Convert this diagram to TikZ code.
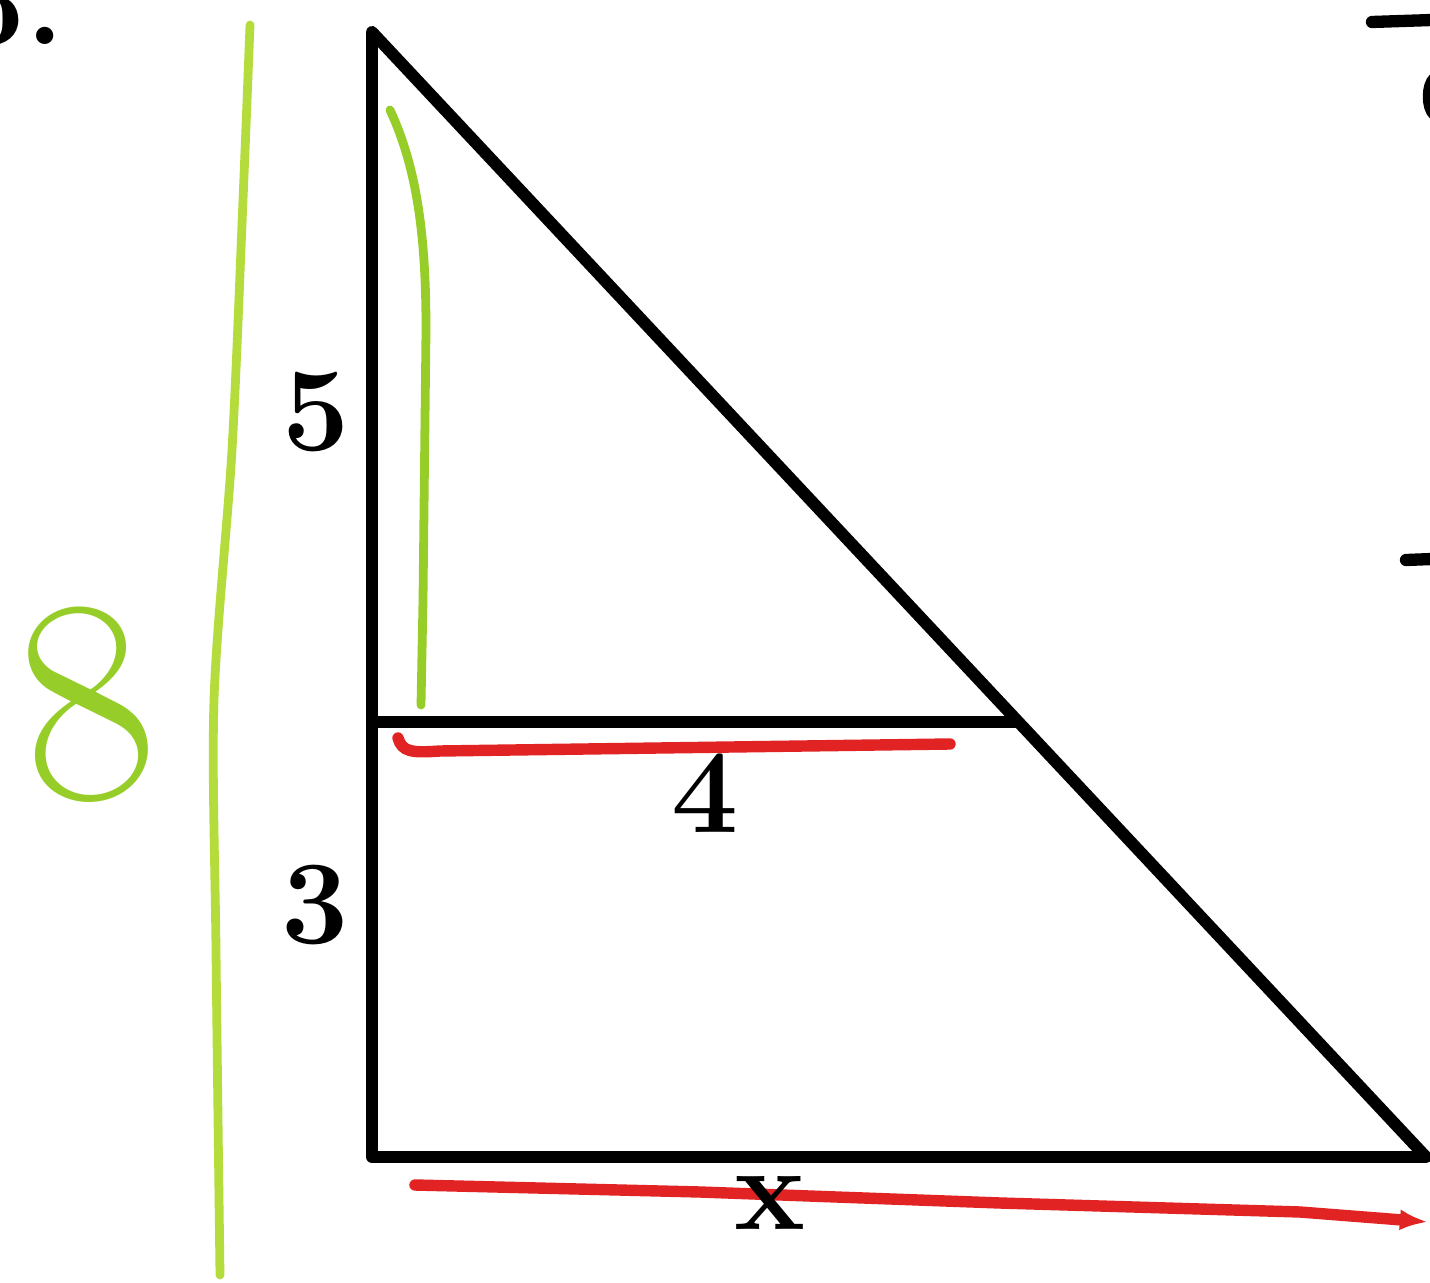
\documentclass[tikz,border=0pt]{standalone}
\usetikzlibrary{arrows.meta}
\definecolor{pengreen}{RGB}{150,205,40}
\definecolor{lightgreen}{RGB}{180,220,60}
\definecolor{penred}{RGB}{225,35,35}
\tikzset{
  edge/.style={line width=6.8pt, line cap=round, line join=round, black},
  greenpen/.style={line width=5pt, line cap=round, pengreen},
  redpen/.style={line width=6.5pt, line cap=round, penred},
  lbl/.style={font=\fontsize{68}{68}\selectfont\bfseries, inner sep=0pt},
}
\begin{document}
\begin{tikzpicture}[x=0.02cm,y=-0.02cm]
\useasboundingbox (0,0) rectangle (1430,1283);
\fill[white] (0,0) rectangle (1430,1283);
% triangle corners
\coordinate (A) at (372,32);
\coordinate (B) at (372,1157);
\coordinate (C) at (1426,1157);
\coordinate (D) at (372,722);
\coordinate (E) at (1016,722);
\draw[edge] (A) -- (B) -- (C) -- cycle;
\draw[edge] (D) -- (E);
% green marks
\draw[greenpen, lightgreen, line width=5pt] plot[smooth] coordinates {(250,25) (243,200) (232,450) (214,700) (216,950) (220,1275)};
\draw[greenpen] (390,110) .. controls (418,170) and (426,240) .. (426,330) -- (423,600) -- (421,705);
\node[text=pengreen, font=\fontsize{165}{165}\selectfont, inner sep=0pt, rotate=8] (eight) at (85,705) {8};
% red marks
\draw[redpen] (398,738) .. controls (402,752) and (412,753) .. (440,751) -- (950,744);
\draw[redpen, -{Latex[length=16pt,width=12pt]}] (415,1185) -- (700,1192) -- (1000,1203) -- (1300,1212) -- (1428,1222);
% labels
\node[lbl] (five) at (316,412) {5};
\node[lbl] (three) at (315,905) {3};
\node[lbl] (four) at (705,793) {4};
\node[lbl] (x) at (770,1203) {x};
% cut-off fragments at the edges
\node[lbl, anchor=base east] (num) at (64,45) {5.};
\draw[edge, line width=7pt] (1372,22) -- (1432,20);
\draw[edge, line width=6pt] (1434,78) .. controls (1426,85) and (1426,108) .. (1434,115);
\draw[edge, line width=7pt] (1406,560) -- (1432,559);
\end{tikzpicture}
\end{document}
